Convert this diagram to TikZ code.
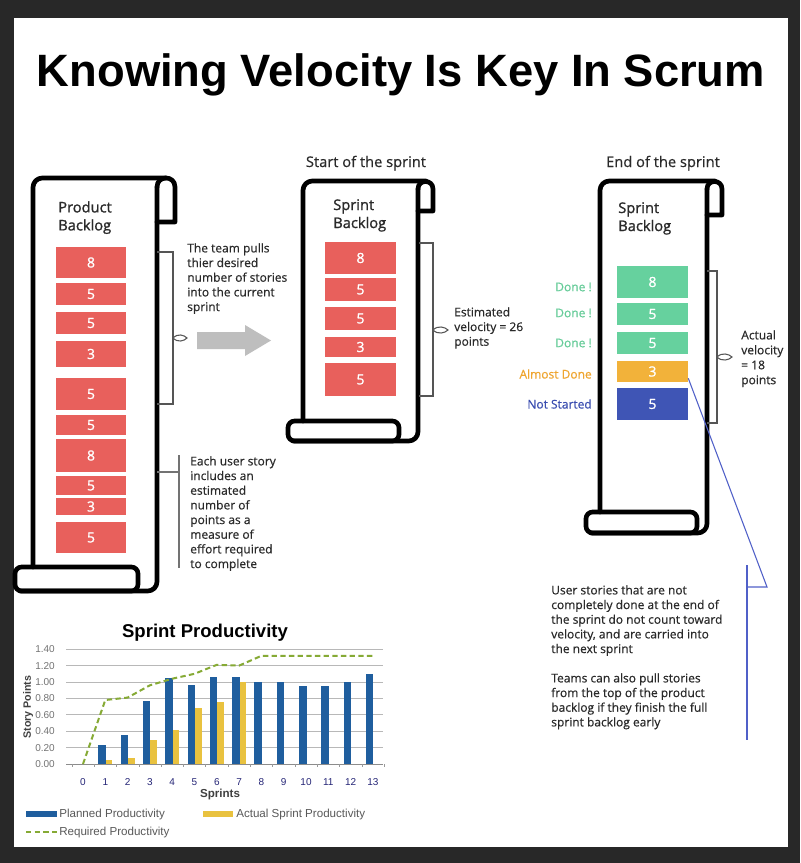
\documentclass[tikz,border=0pt]{standalone}
\usepackage{fontspec}
\setmainfont{Open Sans}
\newfontfamily\osemi[FakeBold=1.2]{Open Sans}
\newfontfamily\olight[FakeBold=0.5]{Open Sans}
\newfontfamily\arialf{Liberation Sans}
\definecolor{framec}{HTML}{282828}
\definecolor{redbox}{HTML}{E8605C}
\definecolor{greenbox}{HTML}{66D19E}
\definecolor{orangebox}{HTML}{F2B23A}
\definecolor{bluebox}{HTML}{3F55B5}
\definecolor{donec}{HTML}{66CC99}
\definecolor{almostc}{HTML}{EFA52F}
\definecolor{notc}{HTML}{3A4DB0}
\definecolor{arrowc}{HTML}{BEBEBE}
\definecolor{brackc}{HTML}{555555}
\definecolor{linkc}{HTML}{5060C8}
\definecolor{planc}{HTML}{1F5E9E}
\definecolor{actc}{HTML}{E9C23F}
\definecolor{reqc}{HTML}{86AA35}
\definecolor{txtc}{HTML}{2A2A2A}
\newcommand{\storyrect}[7]{\node[storybox, fill=#6, minimum width={(#4-#2)*0.75pt}, minimum height={(#5-#3)*0.75pt}] (#1) at ({(#2+#4)/2},{(#3+#5)/2}) {#7};}
\begin{document}
\begin{tikzpicture}[x=0.75pt,y=-0.75pt,
  scroll/.style={line width=3.5pt, black, line join=round, line cap=round},
  storybox/.style={draw=none, inner sep=0pt, text=white, font=\osemi\fontsize{10.5}{12}\selectfont},
  note/.style={font=\olight\fontsize{9}{11}\selectfont, align=left, inner sep=0pt, text=txtc, anchor=north west},
  hdr/.style={font=\osemi\fontsize{11}{13.5}\selectfont, align=left, inner sep=0pt, text=txtc, anchor=north west},
  stat/.style={font=\olight\fontsize{9}{11}\selectfont, inner sep=0pt, anchor=east},
  bracket/.style={draw=brackc, line width=0.8pt},
  grid/.style={draw=black!28, line width=0.6pt},
  ylab/.style={font=\arialf\fontsize{7.5}{9}\selectfont, text=black!55, anchor=east, inner sep=0pt},
  xlab/.style={font=\arialf\fontsize{7.5}{9}\selectfont, text=black!55!blue!70!gray, inner sep=0pt},
  legtxt/.style={font=\arialf\fontsize{8.7}{10}\selectfont, text=black!65, anchor=west, inner sep=0pt},
  reqline/.style={draw=reqc, line width=1.5pt, dash pattern=on 4pt off 2.5pt}
]
\useasboundingbox (0,0) rectangle (800,863);
\fill[framec] (0,0) rectangle (800,863);
\fill[white] (14,18) rectangle (788,847);

% title
\node[font=\arialf\bfseries\fontsize{34}{40}\selectfont, anchor=base, inner sep=0pt] (title) at (401,87) {Knowing Velocity Is Key In Scrum};

% ---------- Product backlog scroll ----------
\draw[scroll, rounded corners=7pt] (33,567) -- (33,178) -- (166,178);
\draw[scroll] (157,222) -- (175,222) -- (175,187) .. controls (175,175) and (157,175) .. (157,187);
\draw[scroll, rounded corners=7pt] (157,187) -- (157,591) -- (20,591);
\draw[scroll, rounded corners=5pt] (15,567) rectangle (138,591);
\node[hdr] (pbl) at (58,201) {Product\\Backlog};
\storyrect{p1}{56}{247}{126}{278}{redbox}{8}
\storyrect{p2}{56}{283}{126}{305}{redbox}{5}
\storyrect{p3}{56}{312}{126}{334}{redbox}{5}
\storyrect{p4}{56}{341}{126}{367}{redbox}{3}
\storyrect{p5}{56}{378}{126}{410}{redbox}{5}
\storyrect{p6}{56}{415}{126}{435}{redbox}{5}
\storyrect{p7}{56}{439}{126}{472}{redbox}{8}
\storyrect{p8}{56}{476}{126}{495}{redbox}{5}
\storyrect{p9}{56}{498}{126}{515}{redbox}{3}
\storyrect{p10}{56}{522}{126}{553}{redbox}{5}

% bracket + pull text
\draw[bracket] (157,252) -- (173,252) -- (173,404) -- (157,404);
\draw[bracket] (173,338) .. controls (178,333) and (184,335) .. (187,338) .. controls (184,341) and (178,343) .. (173,338);
\node[note] (pulltxt) at (187,243) {The team pulls\\thier desired\\number of stories\\into the current\\sprint};
\fill[arrowc] (197,332) -- (245,332) -- (245,325) -- (271,340.5) -- (245,356) -- (245,349) -- (197,349) -- cycle;

\draw[draw=black!55, line width=0.8pt] (157,472) -- (179,472);
\draw[draw=black!55, line width=0.8pt] (179,455) -- (179,568);
\node[note] (eachtxt) at (190,456) {Each user story\\includes an\\estimated\\number of\\points as a\\measure of\\effort required\\to complete};

% ---------- Start of the sprint ----------
\node[font=\olight\fontsize{11}{13}\selectfont, anchor=base, inner sep=0pt, text=txtc] (starttitle) at (366,167) {Start of the sprint};
\draw[scroll, rounded corners=7pt] (303,421) -- (303,181) -- (426,181);
\draw[scroll] (418,211) -- (433,211) -- (433,189) .. controls (433,179) and (418,179) .. (418,189);
\draw[scroll, rounded corners=7pt] (418,189) -- (418,441) -- (293,441);
\draw[scroll, rounded corners=5pt] (288,421) rectangle (399,441);
\node[hdr] (sbl) at (333,199) {Sprint\\Backlog};
\storyrect{s1}{325}{242}{396}{274}{redbox}{8}
\storyrect{s2}{325}{278}{396}{301}{redbox}{5}
\storyrect{s3}{325}{307}{396}{330}{redbox}{5}
\storyrect{s4}{325}{337}{396}{357}{redbox}{3}
\storyrect{s5}{325}{363}{396}{396}{redbox}{5}
\draw[bracket] (419,243) -- (433,243) -- (433,396) -- (419,396);
\draw[bracket] (433,330) .. controls (438,325) and (445,327) .. (448,330) .. controls (445,333) and (438,335) .. (433,330);
\node[note] (esttxt) at (454,307) {Estimated\\velocity = 26\\points};

% ---------- End of the sprint ----------
\node[font=\olight\fontsize{11}{13}\selectfont, anchor=base, inner sep=0pt, text=txtc] (endtitle) at (663,167) {End of the sprint};
\draw[scroll, rounded corners=7pt] (600,512) -- (600,181) -- (715,181);
\draw[scroll] (707,215) -- (722,215) -- (722,189) .. controls (722,179) and (707,179) .. (707,189);
\draw[scroll, rounded corners=7pt] (707,189) -- (707,533) -- (591,533);
\draw[scroll, rounded corners=5pt] (586,512) rectangle (697,533);
\node[hdr] (ebl) at (618,202) {Sprint\\Backlog};
\storyrect{e1}{617}{266}{688}{298}{greenbox}{8}
\storyrect{e2}{617}{303}{688}{325}{greenbox}{5}
\storyrect{e3}{617}{332}{688}{354}{greenbox}{5}
\storyrect{e4}{617}{361}{688}{382}{orangebox}{3}
\storyrect{e5}{617}{388}{688}{420}{bluebox}{5}
\node[stat, text=donec] (d1) at (592,287) {Done !};
\node[stat, text=donec] (d2) at (592,313) {Done !};
\node[stat, text=donec] (d3) at (592,343) {Done !};
\node[stat, text=almostc] (d4) at (592,374) {Almost Done};
\node[stat, text=notc] (d5) at (592,404) {Not Started};
\draw[bracket] (707,271) -- (717,271) -- (717,423) -- (707,423);
\draw[bracket] (717,357) .. controls (722,352) and (729,354) .. (732,357) .. controls (729,360) and (722,362) .. (717,357);
\node[note, font=\olight\fontsize{9}{11.2}\selectfont] (acttxt) at (741,330) {Actual\\velocity\\= 18\\points};

% link line
\coordinate (lk1) at (767,587);
\coordinate (lk2) at (747,587);
\draw[linkc, line width=0.8pt] ([yshift=3pt]e4.south east) -- (lk1) -- (lk2);
\draw[linkc, line width=0.8pt] (747,565) -- (747,740);
\node[note] (usertxt) at (551,585) {User stories that are not\\completely done at the end of\\the sprint do not count toward\\velocity, and are carried into\\the next sprint};
\node[note] (teamtxt) at (551,673) {Teams can also pull stories\\from the top of the product\\backlog if they finish the full\\sprint backlog early};

% ---------- Chart ----------
\node[font=\arialf\bfseries\fontsize{13.9}{16}\selectfont, anchor=base, inner sep=0pt] (ctitle) at (205,637) {Sprint Productivity};
\foreach \k in {1,...,7} \draw[grid] (66,{764-16.4*\k}) -- (383,{764-16.4*\k});
\draw[draw=black!45, line width=0.7pt] (66,764) -- (383,764);
\foreach \k in {0,...,14} \draw[draw=black!40, line width=0.5pt] ({72+22.3*\k},764) -- ({72+22.3*\k},767);
\foreach \k/\t in {0/0.00,1/0.20,2/0.40,3/0.60,4/0.80,5/1.00,6/1.20,7/1.40}
  \node[ylab] (yl\k) at (55,{764-16.4*\k}) {\t};
\foreach \i in {0,...,13} \node[xlab] (xl\i) at ({83+22.3*\i},782) {\i};
\foreach \i/\v in {1/0.23,2/0.35,3/0.77,4/1.05,5/0.96,6/1.06,7/1.06,8/1.00,9/1.00,10/0.95,11/0.95,12/1.00,13/1.10}
  \fill[planc] ({83+22.3*\i-7},764) rectangle ({83+22.3*\i+0.5},{764-82*\v});
\foreach \i/\v in {1/0.05,2/0.07,3/0.29,4/0.41,5/0.68,6/0.76,7/1.00}
  \fill[actc] ({83+22.3*\i+0.5},764) rectangle ({83+22.3*\i+7},{764-82*\v});
\draw[reqline] (83,764) -- (105.3,700) -- (127.6,697.6) -- (149.9,685.3) -- (172.2,678.7) -- (194.5,673.8) -- (216.8,664.8) -- (239.1,665.6) -- (261.4,655.8) -- (372.9,655.8);
\node[font=\arialf\bfseries\fontsize{8}{9.6}\selectfont, text=black!75, rotate=90, inner sep=0pt] (yaxlab) at (28,707) {Story Points};
\node[font=\arialf\bfseries\fontsize{8.7}{10}\selectfont, text=black!75, inner sep=0pt] (xaxlab) at (220,794) {Sprints};
\fill[planc] (26,811) rectangle (57,817);
\node[legtxt] (lg1) at (59,814) {Planned Productivity};
\fill[actc] (203,811) rectangle (233,817);
\node[legtxt] (lg2) at (236,814) {Actual Sprint Productivity};
\draw[reqline] (26,832) -- (57,832);
\node[legtxt] (lg3) at (59,832) {Required Productivity};
\end{tikzpicture}
\end{document}
